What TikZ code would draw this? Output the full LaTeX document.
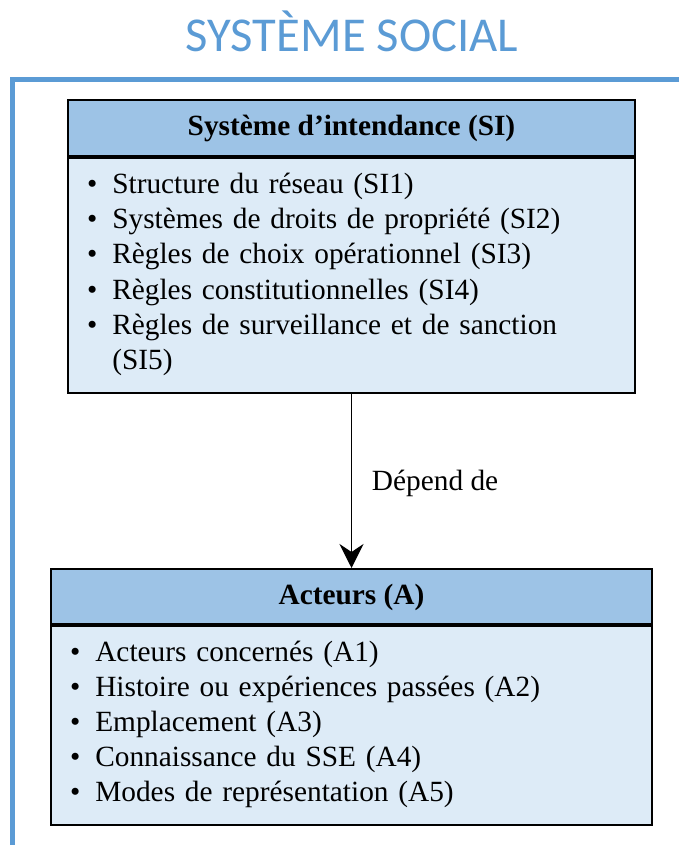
\documentclass[tikz,border=0pt]{standalone}
\usepackage{fontspec}
\setmainfont{Liberation Serif}
\newfontfamily\titrefont{Carlito}
\usetikzlibrary{positioning,arrows.meta}
\definecolor{SocialBlue}{RGB}{91,155,213}
\definecolor{HeadBlue}{RGB}{157,195,230}
\definecolor{BodyBlue}{RGB}{221,235,247}
\newcommand{\puce}[1]{\noindent\rightskip=0pt plus 1fil\hangindent=19pt\hangafter=1\makebox[19pt][l]{\textbullet}#1\par}

\begin{document}
\begin{tikzpicture}[
    x=0.75pt,
    y=-0.75pt,
    font=\fontsize{22}{26.4}\selectfont,
    >={Stealth[length=18pt,width=18pt,inset=6pt]},
    entete/.style={
        draw,
        line width=1.5pt,
        fill=HeadBlue,
        anchor=north,
        inner sep=0pt,
        font=\fontsize{22}{26}\selectfont\bfseries
    },
    corps/.style={
        draw,
        line width=1.5pt,
        fill=BodyBlue,
        anchor=north,
        align=left,
        inner xsep=14.25pt,
        inner ysep=0pt,
        execute at end node={\vspace*{1.5pt}}
    },
    fleche/.style={
        ->,
        line width=1pt
    },
    cadre/.style={
        draw=SocialBlue,
        line width=3.75pt
    }
]
\useasboundingbox (0,0) rectangle (679,845);

% title and frame
\node[font=\titrefont\fontsize{36.5}{40}\selectfont, text=SocialBlue, anchor=base] (titre) at (352,52) {SYSTÈME SOCIAL};
\draw[cadre] (679,80) -| (12.5,845);

% stewardship system
\node[entete, minimum width=425.25pt, minimum height=42pt] (sihead) at (351.5,99) {Système d’intendance (SI)};
\node[corps, text width=396.75pt, minimum height=176.25pt] (sibody) at (sihead.south) {%
    \puce{Structure du réseau (SI1)}
    \puce{Systèmes de droits de propriété (SI2)}
    \puce{Règles de choix opérationnel (SI3)}
    \puce{Règles constitutionnelles (SI4)}
    \puce{Règles de surveillance et de sanction\newline(SI5)}};

% actors
\node[entete, minimum width=450.75pt, minimum height=41.25pt, text depth=3pt] (ahead) at (351.5,568) {Acteurs (A)};
\node[corps, text width=422.25pt, minimum height=149.25pt] (abody) at (ahead.south) {%
    \puce{Acteurs concernés (A1)}
    \puce{Histoire ou expériences passées (A2)}
    \puce{Emplacement (A3)}
    \puce{Connaissance du SSE (A4)}
    \puce{Modes de représentation (A5)}};

\draw[fleche] (sibody) -- (ahead) node[midway, anchor=west, xshift=11.5pt, yshift=-2pt] (dep) {Dépend de};

\end{tikzpicture}
\end{document}
